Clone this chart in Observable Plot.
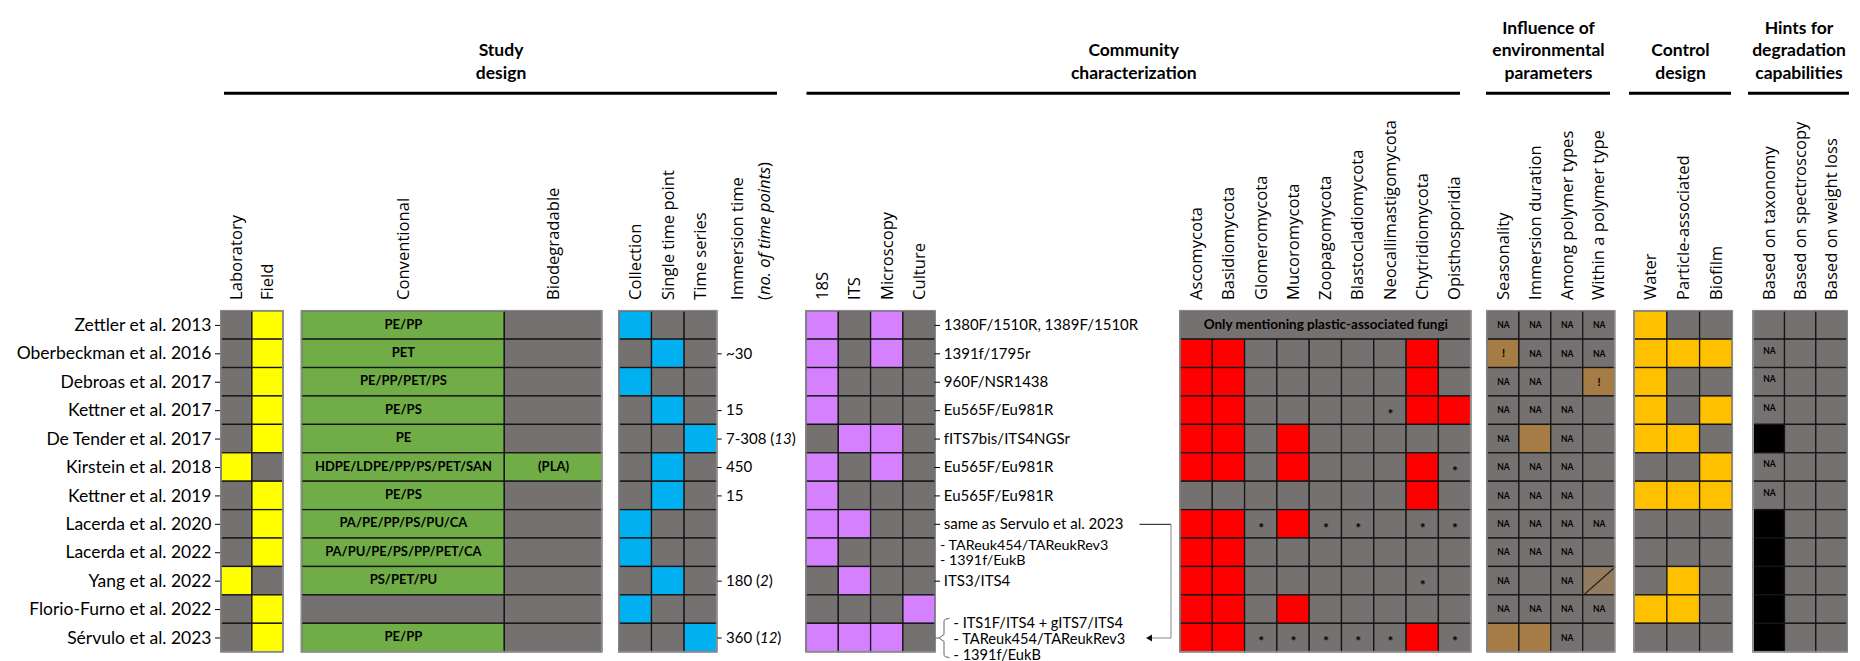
<!DOCTYPE html>
<html><head><meta charset="utf-8">
<script src="https://cdn.jsdelivr.net/npm/d3@7"></script>
<script src="https://cdn.jsdelivr.net/npm/@observablehq/plot@0.6"></script>
<style>body{margin:0;background:#fff;} #chart svg{display:block}</style>
</head><body><div id="chart"></div>
<script>
// ---------------- DATA ----------------
const studies = ["Zettler et al. 2013","Oberbeckman et al. 2016","Debroas et al. 2017","Kettner et al. 2017","De Tender et al. 2017","Kirstein et al. 2018","Kettner et al. 2019","Lacerda et al. 2020","Lacerda et al. 2022","Yang et al. 2022","Florio-Furno et al. 2022","Sérvulo et al. 2023"];
const groupTitles = ["Study\ndesign","Community\ncharacterization","Influence of\nenvironmental\nparameters","Control\ndesign","Hints for\ndegradation\ncapabilities"];
const settingCols = ["Laboratory","Field"];
const polymerCols = ["Conventional","Biodegradable"];
const samplingCols = ["Collection","Single time point","Time series"];
const immersionHeader = ["Immersion time","(no. of time points)"];
const methodCols = ["18S","ITS","Microscopy","Culture"];
const phylumCols = ["Ascomycota","Basidiomycota","Glomeromycota","Mucoromycota","Zoopagomycota","Blastocladiomycota","Neocallimastigomycota","Chytridiomycota","Opisthosporidia"];
const influenceCols = ["Seasonality","Immersion duration","Among polymer types","Within a polymer type"];
const controlCols = ["Water","Particle-associated","Biofilm"];
const hintCols = ["Based on taxonomy","Based on spectroscopy","Based on weight loss"];

const setting = ["Field","Field","Field","Field","Field","Laboratory","Field","Field","Field","Laboratory","Field","Field"];
const conventional = ["PE/PP","PET","PE/PP/PET/PS","PE/PS","PE","HDPE/LDPE/PP/PS/PET/SAN","PE/PS","PA/PE/PP/PS/PU/CA","PA/PU/PE/PS/PP/PET/CA","PS/PET/PU","","PE/PP"];
const biodegradable = ["","","","","","(PLA)","","","","","",""];
const sampling = ["Collection","Single time point","Collection","Single time point","Time series","Single time point","Single time point","Collection","Collection","Single time point","Collection","Time series"];
const immersion = ["","~30","","15","7-308 (13)","450","15","","","180 (2)","","360 (12)"];
const methods = [["18S","Microscopy"],["18S","Microscopy"],["18S"],["18S"],["ITS","Microscopy"],["18S","Microscopy"],["18S"],["18S","ITS"],["18S"],["ITS"],["Culture"],["18S","ITS","Microscopy"]];
const primers = ["1380F/1510R, 1389F/1510R","1391f/1795r","960F/NSR1438","Eu565F/Eu981R","fITS7bis/ITS4NGSr","Eu565F/Eu981R","Eu565F/Eu981R","same as Servulo et al. 2023",["TAReuk454/TAReukRev3","1391f/EukB"],"ITS3/ITS4","",["ITS1F/ITS4 + gITS7/ITS4","TAReuk454/TAReukRev3","1391f/EukB"]];
const primerBraced = ["Sérvulo et al. 2023"];
const primerReference = {from: "Lacerda et al. 2020", to: "Sérvulo et al. 2023"};
const phylaNote = "Only mentioning plastic-associated fungi";
// R = reported, * = marked, - = not reported ; null = note row
const phylaFound = [null,"RR-----R-","RR-----R-","RR----*RR","RR-R-----","RR-R---R*","-------R-","RR*R**-**","RR-------","RR-----*-","RR-R-----","RR*****R*"];
// N = NA, B = influence, ! = influence (!), - = none, / = split
const influence = ["NNNN","!NNN","NN-!","NNN-","NBN-","NNN-","NNN-","NNNN","NNN-","N-N/","NNNN","BBN-"];
// O = control present
const control = ["O--","OOO","O--","O-O","OO-","--O","OOO","---","---","-O-","OO-","---"];
// K = yes, N = NA
const hints = ["---","N--","N--","N--","K--","N--","N--","K--","K--","K--","K--","K--"];

// ---------------- LAYOUT & STYLE ----------------
const W = 1860, H = 661;
const rowTop = 310.7, rowBottom = 651.7, nRows = studies.length;
const rowH = (rowBottom - rowTop) / nRows;
const py = px => (px - rowTop) / rowH;
const C = {gray:"#767171", yellow:"#FFFF00", green:"#70AD47", blue:"#00B0F0", violet:"#D580FF", red:"#FF0000", brown:"#A67C46", split:"#937B60", orange:"#FFC000", black:"#000000"};
function cols(x0, w, names) { return names.map((name, i) => ({name, x1: x0 + i*w, x2: x0 + (i+1)*w, xc: x0 + (i+0.5)*w})); }
const L = {
  setting: cols(221, 30.9, settingCols),
  polymer: [{name: polymerCols[0], x1: 301.5, x2: 504.3}, {name: polymerCols[1], x1: 504.3, x2: 601.7}].map(d => ({...d, xc: (d.x1+d.x2)/2})),
  sampling: cols(618.9, 32.6, samplingCols),
  methods: cols(806, 32.3, methodCols),
  phyla: cols(1180, 32.3, phylumCols),
  influence: cols(1487, 31.9, influenceCols),
  control: cols(1634.2, 32.7, controlCols),
  hints: cols(1753.2, 31.3, hintCols)
};
const immersionTickX = [717.3, 721.7], immersionTextX = 725.5;
const primerTickX = [934.5, 940], primerTextX = 943.3, primerListX = 939.5, bracedTextX = 953;

const cells = [], diagonals = [], txtBold = [], txtNA = [], txtMark = [], txtStar = [], txtNote = [];
function cell(col, i, fill) { cells.push({x1: col.x1, x2: col.x2, y1: i, y2: i+1, fill}); }
studies.forEach((s, i) => {
  L.setting.forEach(c => cell(c, i, setting[i] === c.name ? C.yellow : C.gray));
  const pol = [conventional[i], biodegradable[i]];
  L.polymer.forEach((c, k) => { cell(c, i, pol[k] ? C.green : C.gray); if (pol[k]) txtBold.push({x: c.xc, y: i+0.5, text: pol[k]}); });
  L.sampling.forEach(c => cell(c, i, sampling[i] === c.name ? C.blue : C.gray));
  L.methods.forEach(c => cell(c, i, methods[i].includes(c.name) ? C.violet : C.gray));
  if (phylaFound[i] === null) {
    const a = L.phyla[0], b = L.phyla[L.phyla.length-1];
    cells.push({x1: a.x1, x2: b.x2, y1: i, y2: i+1, fill: C.gray});
    txtNote.push({x: (a.x1+b.x2)/2, y: i+0.5, text: phylaNote});
  } else {
    L.phyla.forEach((c, k) => { const v = phylaFound[i][k]; cell(c, i, v === "R" ? C.red : C.gray); if (v === "*") txtStar.push({x: c.xc, y: i+0.5, text: "*"}); });
  }
  L.influence.forEach((c, k) => {
    const v = influence[i][k];
    cell(c, i, v === "B" || v === "!" ? C.brown : v === "/" ? C.split : C.gray);
    if (v === "N") txtNA.push({x: c.xc, y: i+0.5, text: "NA"});
    if (v === "!") txtMark.push({x: c.xc, y: i+0.5, text: "!"});
    if (v === "/") diagonals.push({x1: c.x1, y1: i+1, x2: c.x2, y2: i});
  });
  L.control.forEach((c, k) => cell(c, i, control[i][k] === "O" ? C.orange : C.gray));
  L.hints.forEach((c, k) => { const v = hints[i][k]; cell(c, i, v === "K" ? C.black : C.gray); if (v === "N") txtNA.push({x: c.xc, y: i+0.4, text: "NA"}); });
});
const boxes = ["setting","polymer","sampling","methods","phyla","influence","control","hints"].map(g => ({x1: L[g][0].x1, x2: L[g][L[g].length-1].x2}));

const headerLabels = [...L.setting, ...L.polymer, ...L.sampling, ...L.methods, ...L.phyla, ...L.influence, ...L.control, ...L.hints].map(c => ({x: c.xc, text: c.name}));
headerLabels.push({x: 737, text: immersionHeader[0]}, {x: 764, text: immersionHeader[1]});

const groupLines = [
  {x1: 224, x2: 777}, {x1: 806.5, x2: 1460}, {x1: 1486, x2: 1610}, {x1: 1629, x2: 1731}, {x1: 1748, x2: 1849}
].map((d, k) => ({...d, xc: (d.x1+d.x2)/2, text: groupTitles[k]}));

const immersionRows = studies.map((s, i) => ({i, text: immersion[i]})).filter(d => d.text);
const primerSingle = studies.map((s, i) => ({i, text: primers[i]})).filter(d => typeof d.text === "string" && d.text);
const primerLists = studies.map((s, i) => ({i, s, lines: primers[i]})).filter(d => Array.isArray(d.lines));
const braceRows = primerLists.filter(d => primerBraced.includes(d.s));
const plainLists = primerLists.filter(d => !primerBraced.includes(d.s));

const refFrom = studies.indexOf(primerReference.from) + 0.5, refTo = studies.indexOf(primerReference.to) + 0.5;
const refX = 1170.5;
const braceX = 943.5, braceHalf = 19.7 / rowH, hook = 0.08, bend = 0.12;
const braceLines = braceRows.flatMap(d => {
  const c = d.i + 0.5;
  return [
    {x1: primerTickX[0], x2: braceX - 5, y1: c, y2: c},
    {x1: braceX + 5.5, x2: braceX + 1.2, y1: c - braceHalf, y2: c - braceHalf + hook/2},
    {x1: braceX + 1.2, x2: braceX, y1: c - braceHalf + hook/2, y2: c - braceHalf + hook},
    {x1: braceX, x2: braceX, y1: c - braceHalf + hook, y2: c - bend},
    {x1: braceX, x2: braceX - 5, y1: c - bend, y2: c},
    {x1: braceX - 5, x2: braceX, y1: c, y2: c + bend},
    {x1: braceX, x2: braceX, y1: c + bend, y2: c + braceHalf - hook},
    {x1: braceX, x2: braceX + 1.2, y1: c + braceHalf - hook, y2: c + braceHalf - hook/2},
    {x1: braceX + 1.2, x2: braceX + 5.5, y1: c + braceHalf - hook/2, y2: c + braceHalf}
  ];
});

const plot = Plot.plot({
  width: W, height: H,
  marginLeft: 220, marginRight: 0, marginTop: rowTop, marginBottom: H - rowBottom,
  x: {type: "linear", domain: [0, W], range: [0, W], axis: null},
  y: {type: "linear", domain: [0, nRows], range: [rowTop, rowBottom]},
  color: {type: "identity"},
  style: {fontFamily: "Lato", background: "white", color: "black", overflow: "visible"},
  marks: [
    Plot.rect(cells, {x1: "x1", x2: "x2", y1: "y1", y2: "y2", fill: "fill", stroke: "#151515", strokeWidth: 1.3}),
    Plot.link(diagonals, {x1: "x1", y1: "y1", x2: "x2", y2: "y2", stroke: "#1a1a1a", strokeWidth: 1.2}),
    Plot.rect(boxes, {x1: "x1", x2: "x2", y1: 0, y2: nRows, fill: "none", stroke: "#8c8c8c", strokeWidth: 1.6}),
    Plot.text(txtBold, {x: "x", y: "y", text: "text", fontSize: 13, fontWeight: "bold", dy: -1}),
    Plot.text(txtNote, {x: "x", y: "y", text: "text", fontSize: 13.5, fontWeight: "bold", dy: -1}),
    Plot.text(txtNA, {x: "x", y: "y", text: "text", fontSize: 8.5, fontWeight: "bold"}),
    Plot.text(txtMark, {x: "x", y: "y", text: "text", fontSize: 11, fontWeight: "bold"}),
    Plot.text(txtStar, {x: "x", y: "y", text: "text", fontSize: 14, fontWeight: "bold", dy: 4}),
    Plot.axisY(d3.range(nRows).map(i => i + 0.5), {anchor: "left", tickSize: 5, tickPadding: 4, tickFormat: d => studies[Math.floor(d)], fontSize: 17.5, label: null}),
    Plot.text(headerLabels, {x: "x", y: py(299.5), text: "text", rotate: -90, textAnchor: "start", fontFamily: "Open Sans", fontSize: 16.6}),
    Plot.text(groupLines, {x: "xc", y: py(78), text: "text", lineAnchor: "bottom", fontWeight: "bold", fontSize: 17.5, lineHeight: 1.26}),
    Plot.ruleY(groupLines, {y: py(92.7), x1: "x1", x2: "x2", strokeWidth: 3}),
    Plot.ruleY(immersionRows, {y: d => d.i + 0.5, x1: immersionTickX[0], x2: immersionTickX[1], strokeWidth: 1}),
    Plot.text(immersionRows, {x: immersionTextX, y: d => d.i + 0.5, text: "text", textAnchor: "start", fontSize: 15}),
    Plot.ruleY(primerSingle, {y: d => d.i + 0.5, x1: primerTickX[0], x2: primerTickX[1], strokeWidth: 1}),
    Plot.text(primerSingle, {x: primerTextX, y: d => d.i + 0.5, text: "text", textAnchor: "start", fontSize: 15}),
    Plot.text(plainLists, {x: primerListX, y: d => d.i + 0.5, text: d => d.lines.map(t => "- " + t).join("\n"), textAnchor: "start", fontSize: 14.3, lineHeight: 1.06}),
    Plot.text(braceRows, {x: bracedTextX, y: d => d.i + 0.5, text: d => d.lines.map(t => "- " + t).join("\n"), textAnchor: "start", fontSize: 14.6, lineHeight: 1.08, dy: 1}),
    Plot.link(braceLines, {x1: "x1", x2: "x2", y1: "y1", y2: "y2", stroke: "#666", strokeWidth: 1}),
    Plot.link([{x1: 1139, x2: refX, y: refFrom}], {x1: "x1", x2: "x2", y1: "y", y2: "y", stroke: "#111", strokeWidth: 1}),
    Plot.link([{x: refX, y1: refFrom, y2: refTo}], {x1: "x", x2: "x", y1: "y1", y2: "y2", stroke: "#9a9a9a", strokeWidth: 1.2}),
    Plot.link([{x1: refX, x2: 1150, y: refTo}], {x1: "x1", x2: "x2", y1: "y", y2: "y", stroke: "#9a9a9a", strokeWidth: 1.2}),
    Plot.dot([{x: 1149.5, y: refTo}], {x: "x", y: "y", symbol: "triangle2", r: 3.3, fill: "#111", rotate: -90})
  ]
});

// italic parts of mixed-style labels
const NS = "http://www.w3.org/2000/svg";
plot.querySelectorAll("text").forEach(t => {
  if (t.children.length) return;
  const s = t.textContent;
  let m = s.match(/^(.*\()(\d+)(\))$/) || (s === immersionHeader[1] ? ["", "(", "no. of time points", ")"] : null);
  if (!m) return;
  t.textContent = "";
  [[m[1], false], [m[2], true], [m[3], false]].forEach(([str, it]) => {
    const sp = document.createElementNS(NS, "tspan");
    sp.textContent = str;
    if (it) sp.setAttribute("font-style", "italic");
    t.appendChild(sp);
  });
});
document.getElementById("chart").appendChild(plot);
</script></body></html>
